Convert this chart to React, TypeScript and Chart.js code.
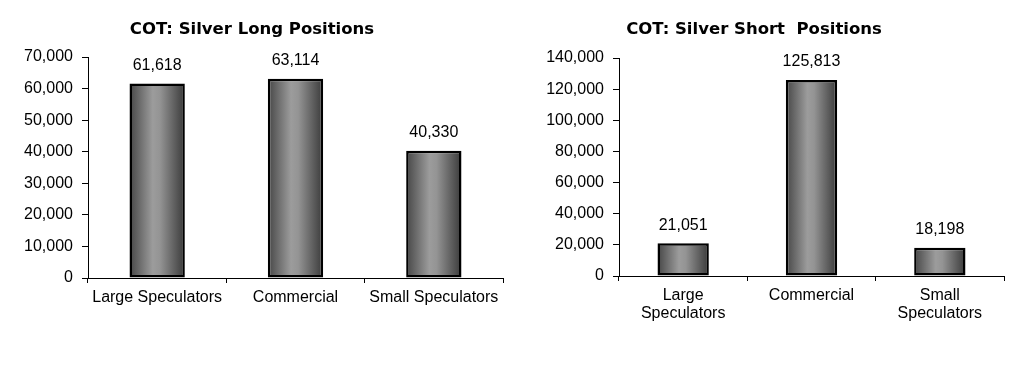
import React, { useEffect, useRef } from "react";
import { Chart, registerables } from "chart.js";

Chart.register(...registerables);

const longCategories: (string | string[])[] = ["Large Speculators", "Commercial", "Small Speculators"];
const longValues = [61618, 63114, 40330];
const longTitle = "COT: Silver Long Positions";
const longMax = 70000;
const longStep = 10000;

const shortCategories: (string | string[])[] = [["Large", "Speculators"], "Commercial", ["Small", "Speculators"]];
const shortValues = [21051, 125813, 18198];
const shortTitle = "COT: Silver Short  Positions";
const shortMax = 140000;
const shortStep = 20000;

const FONT = "'Liberation Sans', Arial, sans-serif";
const H = 370;

type Box = { left: number; right: number; top: number; bottom: number; titleX: number; titleY: number };

function fmt(v: number) {
  return Math.round(v).toLocaleString("en-US");
}

function makeChart(
  canvas: HTMLCanvasElement,
  width: number,
  labels: (string | string[])[],
  values: number[],
  title: string,
  max: number,
  step: number,
  box: Box
) {
  const overlay = {
    id: "overlay",
    afterDatasetsDraw(chart: any) {
      const ctx = chart.ctx;
      ctx.save();
      ctx.fillStyle = "#000";
      ctx.font = `16px ${FONT}`;
      ctx.textAlign = "center";
      ctx.textBaseline = "middle";
      const meta = chart.getDatasetMeta(0);
      meta.data.forEach((bar: any, i: number) => {
        ctx.fillText(fmt(values[i]), bar.x, bar.y - 18);
      });
      ctx.font = `bold 16.5px 'DejaVu Sans', Verdana, sans-serif`;
      ctx.fillText(title, box.titleX, box.titleY);
      ctx.restore();
    },
  };

  return new Chart(canvas, {
    type: "bar",
    data: {
      labels,
      datasets: [
        {
          data: values,
          borderColor: "#000",
          borderWidth: 2.5,
          borderSkipped: false,
          categoryPercentage: 0.4,
          barPercentage: 1,
          backgroundColor: (c: any) => {
            const chart = c.chart;
            const xs = chart.scales?.x;
            if (!xs || !chart.chartArea || c.dataIndex === undefined) return "#808080";
            const cx = xs.getPixelForValue(c.dataIndex);
            const w = (xs.width / labels.length) * 0.4;
            const g = chart.ctx.createLinearGradient(cx - w / 2, 0, cx + w / 2, 0);
            g.addColorStop(0, "#464646");
            g.addColorStop(0.42, "#9c9c9c");
            g.addColorStop(0.55, "#949494");
            g.addColorStop(1, "#3a3a3a");
            return g;
          },
        },
      ],
    },
    options: {
      responsive: false,
      animation: false,
      devicePixelRatio: 1,
      layout: { padding: { left: 0, right: width - box.right, top: box.top, bottom: 0 } },
      plugins: {
        legend: { display: false },
        title: { display: false },
        tooltip: { enabled: false },
      },
      scales: {
        x: {
          grid: {
            display: true,
            offset: true,
            drawOnChartArea: false,
            drawTicks: true,
            tickLength: 5,
            color: "#000",
          },
          border: { display: true, color: "#000", width: 1 },
          ticks: {
            color: "#000",
            padding: 6,
            font: { family: FONT, size: 16, lineHeight: 1.1 },
            maxRotation: 0,
            autoSkip: false,
          },
          afterFit: (s: any) => {
            s.height = H - box.bottom;
          },
        },
        y: {
          min: 0,
          max,
          grid: {
            display: true,
            drawOnChartArea: false,
            drawTicks: true,
            tickLength: 6,
            color: "#000",
          },
          border: { display: true, color: "#000", width: 1 },
          ticks: {
            stepSize: step,
            color: "#000",
            padding: 9,
            font: { family: FONT, size: 16 },
            callback: (v: any) => fmt(Number(v)),
          },
          afterFit: (s: any) => {
            s.width = box.left;
          },
        },
      },
    },
    plugins: [overlay],
  } as any);
}

export default function App() {
  const leftRef = useRef<HTMLCanvasElement>(null);
  const rightRef = useRef<HTMLCanvasElement>(null);

  useEffect(() => {
    const c1 = makeChart(leftRef.current!, 515, longCategories, longValues, longTitle, longMax, longStep, {
      left: 88,
      right: 503,
      top: 57,
      bottom: 278,
      titleX: 252,
      titleY: 30,
    });
    const c2 = makeChart(rightRef.current!, 514, shortCategories, shortValues, shortTitle, shortMax, shortStep, {
      left: 104,
      right: 489,
      top: 58,
      bottom: 276,
      titleX: 239,
      titleY: 29.5,
    });
    return () => {
      c1.destroy();
      c2.destroy();
    };
  }, []);

  return (
    <div style={{ position: "absolute", left: 0, top: 0, width: 1029, height: 370, background: "#fff" }}>
      <canvas ref={leftRef} width={515} height={370} style={{ position: "absolute", left: 0, top: 0, width: 515, height: 370 }} />
      <canvas ref={rightRef} width={514} height={370} style={{ position: "absolute", left: 515, top: 0, width: 514, height: 370 }} />
    </div>
  );
}
